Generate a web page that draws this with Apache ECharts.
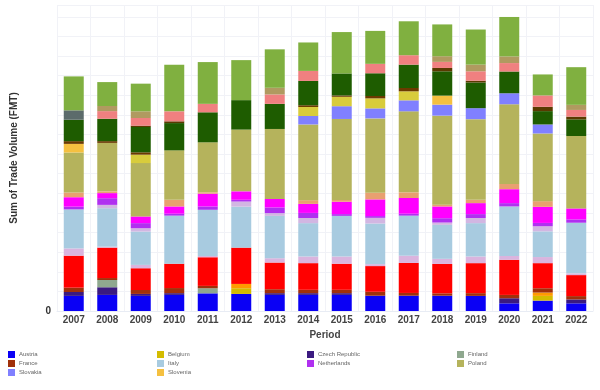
<!DOCTYPE html>
<html><head><meta charset="utf-8">
<script src="https://cdn.jsdelivr.net/npm/echarts@6/dist/echarts.min.js"></script>
<style>html,body{margin:0;padding:0;background:#fff}#c{width:600px;height:390px}</style>
</head><body><div id="c"></div>
<script>
const years = ['2007','2008','2009','2010','2011','2012','2013','2014','2015','2016','2017','2018','2019','2020','2021','2022'];
// values in thousand FMT, stacked bottom -> top
const austria     = [77,82,77,82,90,87,82,82,82,78,78,78,77,39,53,39];
const czech       = [20,39,10,9,0,0,9,9,9,0,0,0,0,26,0,20];
const belgium     = [0,0,0,0,0,29,0,0,0,0,0,0,0,0,24,0];
const spain       = [0,0,0,0,0,22,0,0,0,0,0,0,0,0,17,0];
const finland     = [0,37,0,0,26,0,0,0,0,0,0,0,0,0,0,0];
const france      = [22,10,20,26,12,0,20,17,17,20,14,12,14,17,22,17];
const germany     = [163,155,111,124,146,185,136,136,133,131,153,150,153,179,128,107];
const hungary     = [37,5,17,0,7,0,22,34,37,10,37,26,34,20,31,9];
const italy       = [199,196,170,245,235,209,216,170,207,207,204,173,170,252,131,258];
const ireland     = [0,17,17,0,0,26,14,26,0,29,0,12,26,0,26,0];
const netherlands = [14,34,26,10,17,9,29,26,9,9,10,22,20,17,17,17];
const luxembourg  = [48,26,34,37,65,43,43,46,63,85,80,60,56,71,82,56];
const greece      = [24,9,0,34,7,0,0,19,9,34,29,9,17,27,29,0];
const poland      = [204,247,272,252,255,315,357,386,413,379,413,454,411,406,345,369];
const slovakia    = [0,0,0,0,0,0,0,43,65,51,56,56,56,56,46,0];
const lithuania   = [0,0,43,0,0,0,0,46,48,51,46,0,0,0,0,0];
const slovenia    = [44,0,0,0,0,0,0,0,0,0,0,46,0,0,0,0];
const estonia     = [14,9,12,0,0,0,0,9,7,12,17,0,0,0,0,0];
const sweden      = [109,114,129,139,153,150,128,124,112,116,119,124,131,111,68,85];
const latvia      = [0,0,7,9,0,0,0,0,0,0,0,17,9,0,22,14];
const denmark     = [0,39,39,51,43,0,48,51,0,48,48,31,48,43,58,34];
const croatia     = [0,26,34,0,0,0,34,0,0,0,0,29,34,34,0,26];
const bulgaria    = [48,0,0,0,0,0,0,0,0,0,0,0,0,0,0,0];
const romania     = [173,122,141,238,213,204,196,145,211,168,173,162,179,201,107,192];

const stackOrder = [
  ['Austria', austria], ['Czech Republic', czech], ['Belgium', belgium], ['Spain', spain],
  ['Finland', finland], ['France', france], ['Germany', germany], ['Hungary', hungary],
  ['Italy', italy], ['Ireland', ireland], ['Netherlands', netherlands], ['Luxembourg', luxembourg],
  ['Greece', greece], ['Poland', poland], ['Slovakia', slovakia], ['Lithuania', lithuania],
  ['Slovenia', slovenia], ['Estonia', estonia], ['Sweden', sweden], ['Latvia', latvia],
  ['Denmark', denmark], ['Croatia', croatia], ['Bulgaria', bulgaria], ['Romania', romania]
];
const colors = {
  'Austria':'#0a00f5','Czech Republic':'#3b1a80','Belgium':'#d4bc00','Spain':'#ff9a00',
  'Finland':'#8fa88f','France':'#a0300a','Germany':'#ff0000','Hungary':'#dab4de',
  'Italy':'#a8cbe0','Ireland':'#d2b6e2','Netherlands':'#b030f0','Luxembourg':'#ff00ff',
  'Greece':'#e8a070','Poland':'#b5b35c','Slovakia':'#8080ff','Lithuania':'#d8cc3c',
  'Slovenia':'#f5c040','Estonia':'#6b3a00','Sweden':'#1e5c00','Latvia':'#5a3a00',
  'Denmark':'#f08080','Croatia':'#b09a60','Bulgaria':'#5c6b6b','Romania':'#80b040'
};
const legendCols = [
  ['Austria','France','Slovakia'],
  ['Belgium','Italy','Slovenia'],
  ['Czech Republic','Netherlands'],
  ['Finland','Poland']
];
const legendLeft = [3, 152, 302, 452];

const chart = echarts.init(document.getElementById('c'), null, {renderer:'canvas'});
const series = stackOrder.map(([name, data]) => ({
  name, type:'bar', stack:'total', data, barWidth:20,
  itemStyle:{color:colors[name]}, emphasis:{disabled:true}
}));
const FONT = 'Liberation Sans, Arial, sans-serif';
chart.setOption({
  animation:false,
  backgroundColor:'#fff',
  grid:{left:57, right:7, top:5, bottom:79},
  legend: legendCols.map((d,i)=>({
    data:d, orient:'vertical', left:legendLeft[i], top:346, itemGap:2,
    itemWidth:7, itemHeight:7, icon:'rect', selectedMode:false,
    textStyle:{fontSize:6, color:'#666', fontFamily:FONT, padding:[0,0,0,-1]}
  })),
  xAxis:{
    type:'category', data:years,
    name:'Period', nameLocation:'middle', nameGap:17,
    nameTextStyle:{fontSize:10, fontWeight:'bold', color:'#444', fontFamily:FONT},
    axisLine:{show:true, lineStyle:{color:'#e8ecf4'}}, axisTick:{show:false},
    axisLabel:{fontSize:10, fontWeight:'bold', color:'#444', margin:4, fontFamily:FONT},
    splitLine:{show:true, lineStyle:{color:'#f1f2f7', width:1}}
  },
  yAxis:{
    type:'value', min:0, max:1560, interval:100,
    name:'Sum of Trade Volume (FMT)', nameLocation:'middle', nameGap:38,
    nameTextStyle:{fontSize:10, fontWeight:'bold', color:'#333', fontFamily:FONT},
    axisLine:{show:false}, axisTick:{show:false},
    axisLabel:{fontSize:10, fontWeight:'bold', color:'#333', margin:6,
      formatter:v=> v===0 ? '0' : '', fontFamily:FONT},
    splitLine:{show:true, lineStyle:{color:'#f1f2f7', width:1}}
  },
  series
});
</script></body></html>
